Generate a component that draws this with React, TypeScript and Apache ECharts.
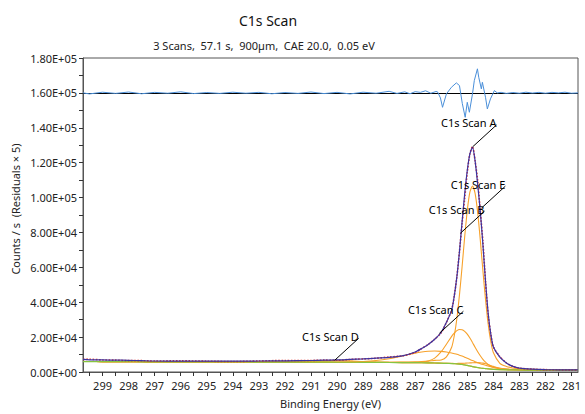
import React, { useEffect, useRef } from 'react';
import * as echarts from 'echarts';

// Binding energies (eV) at which the fitted curves were read
const energies = [299.75, 299.5, 299, 298.5, 298, 297.5, 297, 296, 295, 294, 293, 292, 291, 290.5, 290, 289.5, 289, 288.5, 288, 287.5, 287, 286.75, 286.5, 286.25, 286, 285.8, 285.6, 285.5, 285.4, 285.3, 285.2, 285.1, 285.0, 284.9, 284.8, 284.7, 284.6, 284.5, 284.4, 284.3, 284.2, 284.1, 284.0, 283.75, 283.5, 283.25, 283, 282.5, 282, 281.5, 281, 280.75];

const backgroundCounts = [6000, 6000, 5950, 5900, 5900, 5850, 5800, 5800, 5750, 5750, 5700, 5700, 5650, 5650, 5600, 5600, 5550, 5500, 5450, 5400, 5350, 5300, 5250, 5150, 5050, 4950, 4850, 4750, 4650, 4500, 4300, 4050, 3800, 3450, 3100, 2800, 2550, 2300, 2100, 1950, 1800, 1650, 1550, 1350, 1250, 1200, 1150, 1100, 1100, 1100, 1100, 1100];

const peakA = [6000, 6000, 5950, 5900, 5900, 5850, 5800, 5800, 5750, 5750, 5700, 5700, 5650, 5650, 5600, 5600, 5550, 5600, 5600, 5700, 5850, 6000, 6250, 6650, 6900, 8700, 14150, 20750, 30550, 44200, 60200, 77350, 92600, 103050, 106600, 102400, 91350, 75600, 58000, 41650, 27700, 17650, 11200, 5000, 3200, 2300, 1850, 1500, 1350, 1250, 1200, 1200];

const peakB = [6000, 6000, 5950, 5900, 5900, 5850, 5800, 5800, 5750, 5750, 5700, 5700, 5650, 5650, 5600, 5600, 5550, 5500, 5550, 5550, 5600, 5650, 6300, 7950, 11650, 15900, 20450, 22300, 23700, 24350, 24250, 23300, 21700, 19450, 16900, 14200, 11650, 9300, 7250, 5600, 4300, 3300, 2600, 1780, 1450, 1300, 1230, 1150, 1100, 1100, 1100, 1100];

const peakC = [6000, 6000, 5950, 5900, 5900, 5850, 5800, 5800, 5750, 5750, 5700, 5700, 5650, 5660, 5640, 5745, 5980, 6560, 7630, 9170, 10820, 11460, 11890, 12000, 11800, 11420, 10880, 10510, 10120, 9640, 9120, 8520, 7930, 7220, 6530, 5890, 5320, 4770, 4280, 3860, 3470, 3090, 2790, 2170, 1770, 1520, 1335, 1155, 1100, 1100, 1100, 1100];

const peakD = [6000, 6000, 5950, 5900, 5900, 5850, 5800, 5800, 5750, 5750, 5700, 5780, 6220, 6545, 6590, 6380, 5980, 5670, 5500, 5400, 5350, 5300, 5250, 5150, 5050, 4950, 4850, 4750, 4650, 4500, 4300, 4050, 3800, 3450, 3100, 2800, 2550, 2300, 2100, 1950, 1800, 1650, 1550, 1350, 1250, 1200, 1150, 1100, 1100, 1100, 1100, 1100];

const peakE = [6000, 6000, 5950, 5900, 5900, 5850, 5800, 5800, 5750, 5750, 5700, 5700, 5650, 5650, 5600, 5600, 5550, 5500, 5450, 5400, 5350, 5300, 5250, 5150, 5050, 4970, 4930, 4900, 4910, 4930, 4960, 5020, 5140, 5210, 5280, 5360, 5390, 5290, 5070, 4750, 4290, 3750, 3220, 2090, 1480, 1250, 1150, 1100, 1100, 1100, 1100, 1100];

const envelopeCounts = [7200, 7000, 6900, 6800, 6700, 6500, 6300, 6200, 6200, 6200, 6300, 6400, 6600, 6800, 6900, 7200, 7500, 7900, 8400, 9200, 11500, 13500, 15800, 18800, 22800, 28500, 35500, 43500, 54500, 69000, 86000, 102000, 115500, 125000, 128800, 121000, 107500, 92000, 73000, 52000, 34000, 22000, 14500, 8500, 5200, 3200, 2200, 1600, 1350, 1250, 1200, 1200];

const rawCounts = [7200, 7300, 6900, 6800, 6500, 6500, 6300, 6400, 6200, 6000, 6300, 6600, 6600, 6800, 6700, 7200, 7500, 7900, 8600, 9200, 11200, 13500, 15800, 18800, 22500, 28500, 35500, 43500, 54500, 69000, 85000, 99500, 114500, 125000, 129300, 121000, 109500, 92000, 74500, 52000, 33000, 22000, 14500, 8800, 5200, 3200, 2200, 1600, 1350, 1250, 1200, 1200];

// Residuals (x5), plotted around an offset
const residualOffset = 160000;
const residualEnergies = [299.75, 299.5, 299.0, 298.5, 298.0, 297.5, 297.0, 296.5, 296.0, 295.5, 295.0, 294.5, 294.0, 293.5, 293.0, 292.5, 292.0, 291.5, 291.0, 290.5, 290.0, 289.5, 289.0, 288.5, 288.0, 287.7, 287.4, 287.2, 287.0, 286.8, 286.6, 286.4, 286.2, 286.14, 286.03, 285.95, 285.8, 285.61, 285.42, 285.3, 285.19, 285.08, 285.0, 284.92, 284.8, 284.73, 284.61, 284.56, 284.46, 284.42, 284.3, 284.23, 284.11, 283.96, 283.85, 283.7, 283.5, 283.25, 283.0, 282.75, 282.5, 282.25, 282.0, 281.75, 281.5, 281.25, 281.0, 280.75];
const residualValues = [0, -600, 400, -300, 500, -500, 300, -200, 600, -400, 200, -300, 400, -200, 300, -500, 200, -300, 500, -400, 300, -600, 400, -200, 900, -300, 600, -500, 700, 300, 1200, -200, 800, 570, -2900, -8260, -570, 3200, 5740, 4200, -6140, -14000, -5400, -11100, -570, 7060, 13800, 8950, 2300, 6080, -2500, -9180, -3440, 1320, 0, 300, -300, 200, -200, 400, -100, 300, -200, 300, 0, 400, -200, 0];

// Peak labels and the envelope point each one points to
const labelNames = ['C1s Scan A', 'C1s Scan B', 'C1s Scan C', 'C1s Scan D', 'C1s Scan E'];
const labelEnergies = [284.8, 285.26, 286.07, 290.09, 284.46];
const labelCounts = [129000, 79600, 22200, 6700, 93900];

// Axis ticks
const xTickValues = [281, 281.5, 282, 282.5, 283, 283.5, 284, 284.5, 285, 285.5, 286, 286.5, 287, 287.5, 288, 288.5, 289, 289.5, 290, 290.5, 291, 291.5, 292, 292.5, 293, 293.5, 294, 294.5, 295, 295.5, 296, 296.5, 297, 297.5, 298, 298.5, 299, 299.5];
const xLabelValues = [281, 282, 283, 284, 285, 286, 287, 288, 289, 290, 291, 292, 293, 294, 295, 296, 297, 298, 299];

const FONT = '"Noto Sans", "DejaVu Sans", sans-serif';

function fmtExp(v: number): string {
  const [m, e] = v.toExponential(2).split('e');
  const sign = e[0] === '-' ? '-' : '+';
  const ex = Math.abs(parseInt(e, 10)).toString().padStart(2, '0');
  return `${m}E${sign}${ex}`;
}

const pair = (arr: number[]) => energies.map((e, i) => [e, arr[i]]);

export default function App() {
  const ref = useRef<HTMLDivElement>(null);
  useEffect(() => {
    const chart = echarts.init(ref.current!, null, { renderer: 'svg' });
    const orange = '#f7a12a';
    const compSeries = [peakA, peakB, peakC, peakD, peakE].map((arr, k) => ({
      type: 'line',
      name: 'comp' + k,
      data: pair(arr),
      smooth: 0.25,
      showSymbol: false,
      symbol: 'none',
      lineStyle: { color: orange, width: 1.1 },
      z: 2,
    }));
    const option: any = {
      animation: false,
      backgroundColor: '#ffffff',
      textStyle: { fontFamily: FONT },
      grid: { left: 83, right: 7, top: 58, bottom: 42, show: true, borderColor: '#555', borderWidth: 1, backgroundColor: 'transparent', outerBoundsMode: 'none' },
      xAxis: {
        type: 'value',
        inverse: true,
        min: 280.75,
        max: 299.75,
        name: 'Binding Energy (eV)',
        nameLocation: 'middle',
        nameGap: 26,
        nameTextStyle: { fontSize: 11, color: '#222', fontFamily: FONT },
        axisLine: { show: true, onZero: false, lineStyle: { color: '#555', width: 1 } },
        axisTick: { show: true, length: 4, customValues: xTickValues, lineStyle: { color: '#333' } },
        axisLabel: { customValues: xLabelValues, fontSize: 11, color: '#222', margin: 8, fontFamily: FONT },
        splitLine: { show: false },
      },
      yAxis: {
        type: 'value',
        min: 0,
        max: 180000,
        interval: 20000,
        axisLine: { show: true, lineStyle: { color: '#555', width: 1 } },
        axisTick: { show: true, length: 4, lineStyle: { color: '#333' } },
        minorTick: { show: true, splitNumber: 2, length: 4, lineStyle: { color: '#333' } },
        axisLabel: { formatter: (v: number) => fmtExp(v), fontSize: 11, color: '#222', margin: 6, fontFamily: FONT },
        splitLine: { show: false },
        minorSplitLine: { show: false },
      },
      graphic: [
        { type: 'text', x: 268, y: 20, style: { text: 'C1s Scan', fill: '#111', font: `14px ${FONT}`, align: 'center', verticalAlign: 'middle' } },
        { type: 'text', x: 264, y: 45, style: { text: '3 Scans,  57.1 s,  900µm,  CAE 20.0,  0.05 eV', fill: '#222', font: `11px ${FONT}`, align: 'center', verticalAlign: 'middle' } },
        { type: 'text', x: 15, y: 209, rotation: Math.PI / 2, style: { text: 'Counts / s  (Residuals × 5)', fill: '#222', font: `11px ${FONT}`, align: 'center', verticalAlign: 'middle' } },
      ],
      series: [
        ...compSeries,
        {
          type: 'line', name: 'background', data: pair(backgroundCounts), smooth: 0.25, symbol: 'none',
          lineStyle: { color: '#86c440', width: 1.2 }, z: 3,
        },
        {
          type: 'line', name: 'raw', data: pair(rawCounts), smooth: 0.25, symbol: 'none',
          lineStyle: { color: '#e3312b', width: 1.6, type: 'dotted' }, z: 4,
        },
        {
          type: 'line', name: 'envelope', data: pair(envelopeCounts), smooth: 0.25, symbol: 'none',
          lineStyle: { color: '#3b34a0', width: 1.2 }, z: 5,
        },
        {
          type: 'line', name: 'residuals', data: residualEnergies.map((e, i) => [e, residualOffset + residualValues[i]]),
          symbol: 'none', lineStyle: { color: '#4a8fd9', width: 1 }, z: 6,
          markLine: {
            silent: true, symbol: ['none', 'none'], label: { show: false },
            lineStyle: { color: '#000', width: 1, type: 'solid' },
            data: [{ yAxis: residualOffset }],
          },
        },
        {
          type: 'custom', name: 'labels', z: 7,
          data: labelEnergies.map((e, i) => [e, labelCounts[i], i]),
          renderItem: (params: any, api: any) => {
            const p = api.coord([api.value(0), api.value(1)]);
            const idx = api.value(2);
            const ex = p[0] + 24;
            const ey = p[1] - 22;
            return {
              type: 'group',
              children: [
                { type: 'line', shape: { x1: p[0], y1: p[1], x2: ex, y2: ey }, style: { stroke: '#000', lineWidth: 1 } },
                {
                  type: 'text', x: ex, y: ey - 2,
                  style: { text: labelNames[idx], fill: '#000', font: `11px ${FONT}`, textAlign: 'right', textVerticalAlign: 'middle', align: 'right', verticalAlign: 'middle' },
                },
              ],
            };
          },
        },
      ],
    };
    chart.setOption(option);
    return () => chart.dispose();
  }, []);
  return <div ref={ref} style={{ position: 'absolute', left: 0, top: 0, width: 585, height: 414, background: '#fff' }} />;
}
